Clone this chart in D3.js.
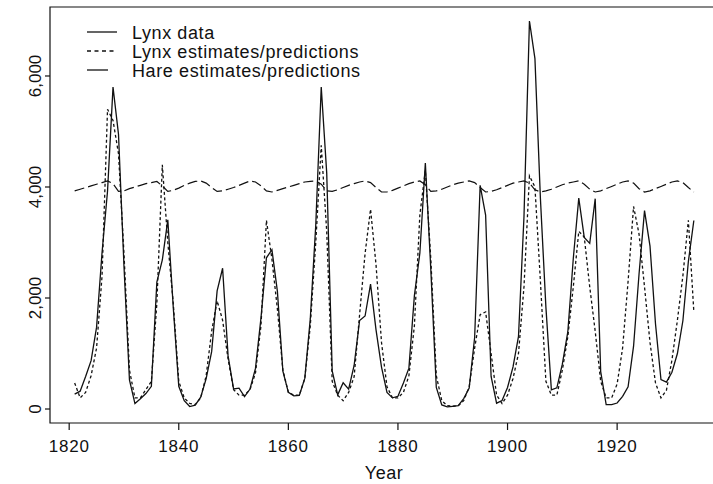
<!DOCTYPE html>
<html>
<head>
<meta charset="utf-8">
<script src="https://cdn.jsdelivr.net/npm/d3@7"></script>
<style>
  html, body { margin: 0; padding: 0; background: #fff; }
  svg { display: block; font-family: "Liberation Sans", Arial, Helvetica, sans-serif; }
</style>
</head>
<body>
<svg id="chart" width="713" height="484"></svg>
<script>
// ---------- data ----------
const years = d3.range(1821, 1935);

const lynxData = [
  269, 321, 585, 871, 1475, 2821, 3928, 5800, 4950, 2577,
  523, 98, 184, 279, 409, 2285, 2685, 3409, 1824, 409,
  151, 45, 68, 213, 546, 1033, 2129, 2536, 957, 361,
  377, 225, 360, 731, 1638, 2725, 2871, 2119, 684, 299,
  236, 245, 552, 1623, 3311, 5800, 4254, 687, 255, 473,
  358, 784, 1594, 1676, 2251, 1426, 756, 299, 201, 229,
  469, 736, 2042, 2811, 4431, 2511, 389, 73, 39, 49,
  59, 188, 377, 1292, 4031, 3495, 587, 105, 153, 387,
  758, 1307, 3465, 6991, 6313, 3794, 1836, 345, 382, 808,
  1388, 2713, 3800, 3091, 2985, 3790, 674, 81, 80, 108,
  229, 399, 1132, 2432, 3574, 2935, 1537, 529, 485, 662,
  1000, 1590, 2657, 3396
];

const lynxEst = [
  470, 200, 300, 600, 1100, 2400, 5400, 5200, 4600, 2800,
  700, 200, 200, 350, 500, 1900, 4400, 3000, 1900, 500,
  200, 100, 80, 200, 600, 1400, 1950, 1600, 900, 350,
  250, 250, 350, 650, 1500, 3400, 2700, 1800, 700, 300,
  250, 250, 550, 1500, 3000, 4750, 3200, 500, 250, 150,
  300, 580, 1700, 2800, 3600, 2600, 1200, 400, 200, 200,
  300, 600, 1500, 3500, 4300, 2700, 600, 150, 60, 50,
  60, 150, 400, 1100, 1700, 1750, 1000, 250, 100, 250,
  550, 1000, 2200, 4200, 4000, 2300, 500, 250, 250, 700,
  1300, 2200, 3200, 3100, 2200, 1400, 500, 200, 200, 450,
  1100, 2300, 3650, 3150, 2200, 1200, 470, 200, 340, 880,
  1600, 2400, 3400, 1750
];

const hareEst = [
  3930, 3960, 3990, 4020, 4050, 4080, 4110, 4060, 3920, 3930,
  3970, 4000, 4030, 4060, 4080, 4100, 4020, 3920, 3940, 3980,
  4030, 4070, 4100, 4110, 4070, 3990, 3920, 3930, 3960, 3990,
  4030, 4070, 4110, 4090, 4020, 3930, 3910, 3940, 3970, 4000,
  4030, 4060, 4090, 4100, 4110, 4050, 3930, 3920, 3950, 3990,
  4030, 4060, 4090, 4110, 4080, 3990, 3910, 3910, 3940, 3980,
  4020, 4060, 4090, 4110, 4040, 3920, 3930, 3960, 4000, 4040,
  4070, 4090, 4110, 4080, 3990, 3910, 3920, 3950, 3990, 4030,
  4070, 4090, 4110, 4070, 3950, 3910, 3930, 3960, 4000, 4040,
  4070, 4090, 4110, 4050, 3960, 3910, 3930, 3970, 4010, 4050,
  4090, 4110, 4070, 3970, 3910, 3930, 3970, 4010, 4050, 4090,
  4110, 4080, 3990, 3910
];

const xTicks = [1820, 1840, 1860, 1880, 1900, 1920];
const yTicks = [0, 2000, 4000, 6000];
const legendLabels = ["Lynx data", "Lynx estimates/predictions", "Hare estimates/predictions"];
const xTitle = "Year";

// ---------- layout ----------
const svg = d3.select("#chart");
const x = d3.scaleLinear().domain([1816.5, 1938.5]).range([50, 718.5]);
const y = d3.scaleLinear().domain([-252, 7243]).range([423, 7]);

const font = "'Liberation Sans', Arial, Helvetica, sans-serif";

// frame (box)
svg.append("path")
  .attr("d", `M${x(1938.5)},${y(7243)}H${x(1816.5)}V${y(-252)}H${x(1938.5)}`)
  .attr("fill", "none").attr("stroke", "#111").attr("stroke-width", 1.2);

// x axis ticks & labels
const gx = svg.append("g");
xTicks.forEach(t => {
  gx.append("line").attr("x1", x(t)).attr("x2", x(t))
    .attr("y1", 423).attr("y2", 430).attr("stroke", "#111").attr("stroke-width", 1.2);
  gx.append("text").attr("x", x(t)).attr("y", 452)
    .attr("text-anchor", "middle").attr("font-size", 17)
    .attr("letter-spacing", "0.8px").attr("fill", "#111").text(t);
});

// y axis ticks & labels
const fmt = d3.format(",");
const gy = svg.append("g");
yTicks.forEach(t => {
  gy.append("line").attr("x1", 45).attr("x2", 50)
    .attr("y1", y(t)).attr("y2", y(t)).attr("stroke", "#111").attr("stroke-width", 1.2);
  gy.append("text")
    .attr("transform", `translate(41,${y(t)}) rotate(-90)`)
    .attr("text-anchor", "middle").attr("font-size", 17)
    .attr("fill", "#111").text(fmt(t));
});

svg.append("text").attr("x", 384).attr("y", 479)
  .attr("text-anchor", "middle").attr("font-size", 18)
  .attr("letter-spacing", "0.5px").attr("fill", "#111").text(xTitle);

// ---------- series ----------
const line = d3.line().x(d => x(d[0])).y(d => y(d[1]));

svg.append("path")
  .datum(years.map((yr, i) => [yr, hareEst[i]]))
  .attr("d", line).attr("fill", "none").attr("stroke", "#111")
  .attr("stroke-width", 1.2).attr("stroke-dasharray", "10,4");

svg.append("path")
  .datum(years.map((yr, i) => [yr, lynxEst[i]]))
  .attr("d", line).attr("fill", "none").attr("stroke", "#111")
  .attr("stroke-width", 1.3).attr("stroke-dasharray", "3,2.5");

svg.append("path")
  .datum(years.map((yr, i) => [yr, lynxData[i]]))
  .attr("d", line).attr("fill", "none").attr("stroke", "#111")
  .attr("stroke-width", 1.3);

// ---------- legend ----------
const legendRows = [
  { y: 32, dash: null, x2: 117 },
  { y: 51, dash: "4,3.5", x2: 117 },
  { y: 70, dash: null, x2: 108 }
];
legendRows.forEach((r, i) => {
  svg.append("line").attr("x1", 87).attr("x2", r.x2)
    .attr("y1", r.y).attr("y2", r.y)
    .attr("stroke", "#111").attr("stroke-width", 1.3)
    .attr("stroke-dasharray", r.dash);
  svg.append("text").attr("x", 132).attr("y", r.y + 6.5)
    .attr("font-size", 18).attr("letter-spacing", "0.6px")
    .attr("fill", "#111").text(legendLabels[i]);
});
</script>
</body>
</html>
